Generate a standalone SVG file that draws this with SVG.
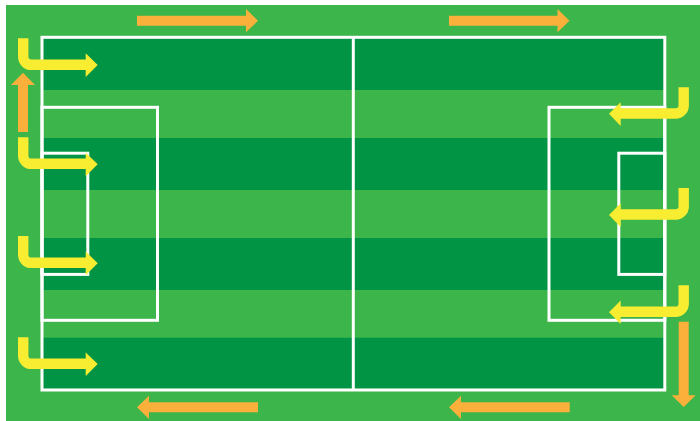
<svg xmlns="http://www.w3.org/2000/svg" width="700" height="421" viewBox="0 0 700 421">
<style>
.stripe{fill:#009444}
.line{fill:none;stroke:#fff;stroke-width:3}
.bend{fill:none;stroke:#f9ed32;stroke-width:10.4}
.head{fill:#f9ed32}
.run{fill:#fbb03b}
</style>
<rect width="700" height="421" fill="#fff"/>
<rect x="6" y="5" width="694" height="416" fill="#3cb54a"/>
<g id="stripes">
<rect class="stripe" x="43" y="38" width="621" height="52"/>
<rect class="stripe" x="43" y="138" width="621" height="52"/>
<rect class="stripe" x="43" y="238" width="621" height="52"/>
<rect class="stripe" x="43" y="337.7" width="621" height="51"/>
</g>
<g id="pitch-lines">
<rect class="line" x="42" y="37.3" width="622.8" height="352.7"/>
<path class="line" d="M353.3 37.3V390"/>
<rect class="line" x="42" y="107.3" width="115.5" height="213"/>
<rect class="line" x="42" y="153.2" width="45.8" height="121.2"/>
<rect class="line" x="549" y="107.3" width="115.8" height="213"/>
<rect class="line" x="618.8" y="153.2" width="46" height="121.2"/>
</g>
<g id="runs">
<polygon class="run" points="137,15.7 246,15.7 246,9 258,20.7 246,32.3 246,25.7 137,25.7"/>
<polygon class="run" points="449,15.7 557.5,15.7 557.5,9 569.5,20.7 557.5,32.3 557.5,25.7 449,25.7"/>
<polygon class="run" points="18,132 18,85 11,85 23,72.7 35,85 28,85 28,132"/>
<polygon class="run" points="678.7,321.7 688.7,321.7 688.7,395.3 695.7,395.3 683.7,407 671.7,395.3 678.7,395.3"/>
<polygon class="run" points="258,402.3 149,402.3 149,395.7 137,407.3 149,419 149,412.3 258,412.3"/>
<polygon class="run" points="569.7,402.3 461,402.3 461,395.7 449,407.3 461,419 461,412.3 569.7,412.3"/>
</g>
<g id="bends">
<path class="bend" d="M23.2 38.3V56.8A8 8 0 0 0 31.2 64.8H87"/><polygon class="head" points="85.7,53.3 97.7,65 85.7,77"/>
<path class="bend" d="M23.2 137.3V155.8A8 8 0 0 0 31.2 163.8H87"/><polygon class="head" points="85.7,152.8 97.7,164.3 85.7,176.3"/>
<path class="bend" d="M23.2 236V254.8A8 8 0 0 0 31.2 262.8H87"/><polygon class="head" points="85.7,251.5 97.7,263.3 85.7,275.2"/>
<path class="bend" d="M23.2 337.3V355.8A8 8 0 0 0 31.2 363.8H87"/><polygon class="head" points="85.7,352.5 97.7,364 85.7,376"/>
<path class="bend" d="M683.7 87.3V105.5A8 8 0 0 1 675.7 113.5H619.5"/><polygon class="head" points="620.7,102.3 609,113.8 620.7,126"/>
<path class="bend" d="M683.7 188V206.5A8 8 0 0 1 675.7 214.5H619.5"/><polygon class="head" points="620.7,203.3 609,215 620.7,227"/>
<path class="bend" d="M683.7 285.3V303.7A8 8 0 0 1 675.7 311.7H619.5"/><polygon class="head" points="620.7,300.5 609,312.3 620.7,324"/>
</g>
</svg>
